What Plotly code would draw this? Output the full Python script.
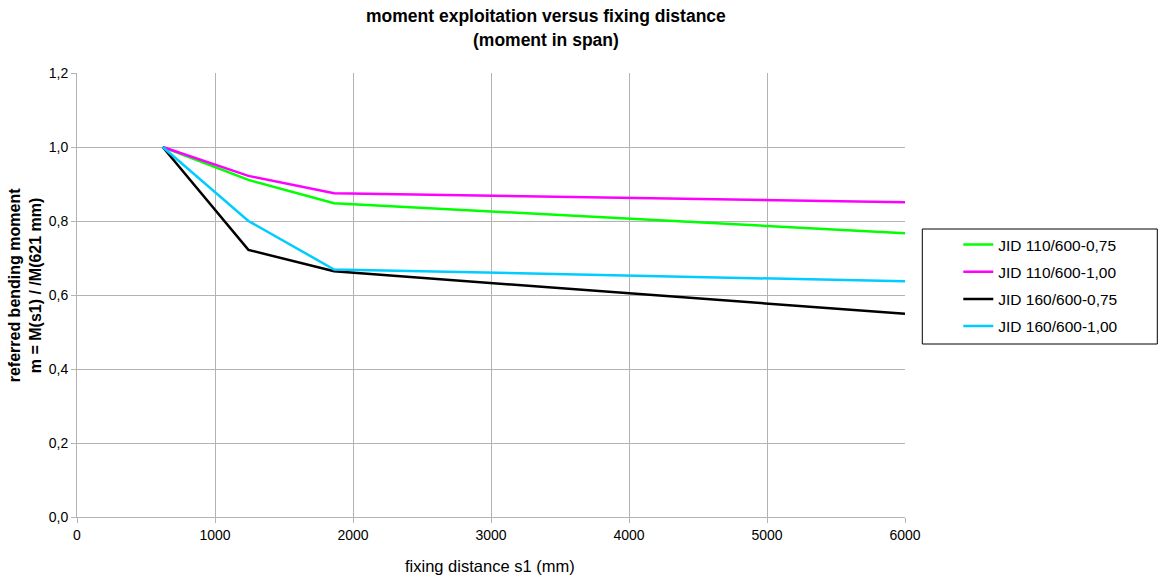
import plotly.graph_objects as go

# fixing distance s1 (mm)
s1 = [621, 1242, 1863, 6000]

series_names = ["JID 110/600-0,75", "JID 110/600-1,00", "JID 160/600-0,75", "JID 160/600-1,00"]
jid110_075 = [1.0, 0.911, 0.848, 0.767]
jid110_100 = [1.0, 0.922, 0.875, 0.851]
jid160_075 = [1.0, 0.722, 0.664, 0.549]
jid160_100 = [1.0, 0.800, 0.669, 0.637]
series_values = [jid110_075, jid110_100, jid160_075, jid160_100]
series_colors = ["#00ff00", "#ff00ff", "#000000", "#00ccff"]

x_ticks = [0, 1000, 2000, 3000, 4000, 5000, 6000]
y_ticks = [0.0, 0.2, 0.4, 0.6, 0.8, 1.0, 1.2]

title_lines = ["moment exploitation versus fixing distance", "(moment in span)"]
y_title_lines = ["referred bending moment", "m = M(s1) / /M(621 mm)"]
x_title = "fixing distance s1 (mm)"

FONT = "Liberation Sans, Arial, sans-serif"

fig = go.Figure()
for i, (name, vals, col) in enumerate(zip(series_names, series_values, series_colors)):
    fig.add_trace(go.Scatter(
        x=s1, y=vals, mode="lines", name=name,
        line=dict(color=col, width=2.5),
        legendgroup=f"g{i}",
    ))

W, H = 1160, 586
L, R, T, B = 76.7, 904.7, 73, 517
pw, ph = R - L, B - T

def px(xp):
    return (xp - L) / pw

def py(yp):
    return (B - yp) / ph

fig.update_layout(
    width=W, height=H,
    margin=dict(l=L, r=W - R, t=T, b=H - B, autoexpand=False),
    paper_bgcolor="white", plot_bgcolor="white",
    separators=",.",
    font=dict(family=FONT, color="black", size=14),
    xaxis=dict(
        range=[0, 6000], tickvals=x_ticks, tickformat="d",
        showgrid=True, gridcolor="#b3b3b3", gridwidth=1,
        showline=True, linecolor="#b3b3b3", linewidth=1,
        ticks="outside", ticklen=5, tickcolor="#b3b3b3",
        zeroline=False, tickfont=dict(size=14),
    ),
    yaxis=dict(
        range=[0, 1.2], tickvals=y_ticks, tickformat=".1f",
        showgrid=True, gridcolor="#b3b3b3", gridwidth=1,
        showline=True, linecolor="#b3b3b3", linewidth=1,
        ticks="outside", ticklen=5, tickcolor="#b3b3b3",
        zeroline=False, tickfont=dict(size=14),
    ),
    legend=dict(
        x=px(958), xanchor="left", y=py(228), yanchor="top",
        bgcolor="rgba(0,0,0,0)", borderwidth=0,
        font=dict(size=15.5, family=FONT, color="black"),
        tracegroupgap=4,
    ),
    shapes=[dict(
        type="rect", xref="paper", yref="paper",
        x0=px(922), x1=px(1157), y0=py(344), y1=py(229),
        line=dict(color="black", width=1), fillcolor="rgba(0,0,0,0)",
    )],
    annotations=[
        dict(text=f"<b>{title_lines[0]}</b>", xref="paper", yref="paper",
             x=px(546), y=py(16), xanchor="center", yanchor="middle", showarrow=False,
             font=dict(size=17.5, family=FONT, color="black")),
        dict(text=f"<b>{title_lines[1]}</b>", xref="paper", yref="paper",
             x=px(546), y=py(40), xanchor="center", yanchor="middle", showarrow=False,
             font=dict(size=17.5, family=FONT, color="black")),
        dict(text=f"<b>{y_title_lines[0]}<br>{y_title_lines[1]}</b>", xref="paper", yref="paper",
             x=px(25), y=py(285), xanchor="center", yanchor="middle", showarrow=False,
             textangle=-90, font=dict(size=16, family=FONT, color="black")),
        dict(text=x_title, xref="paper", yref="paper",
             x=px(490), y=py(566), xanchor="center", yanchor="middle", showarrow=False,
             font=dict(size=16.5, family=FONT, color="black")),
    ],
)

fig.write_html(
    "out.html",
    config={"displayModeBar": False},
    post_script="document.body.style.margin='0px';document.body.style.overflow='hidden';",
)
